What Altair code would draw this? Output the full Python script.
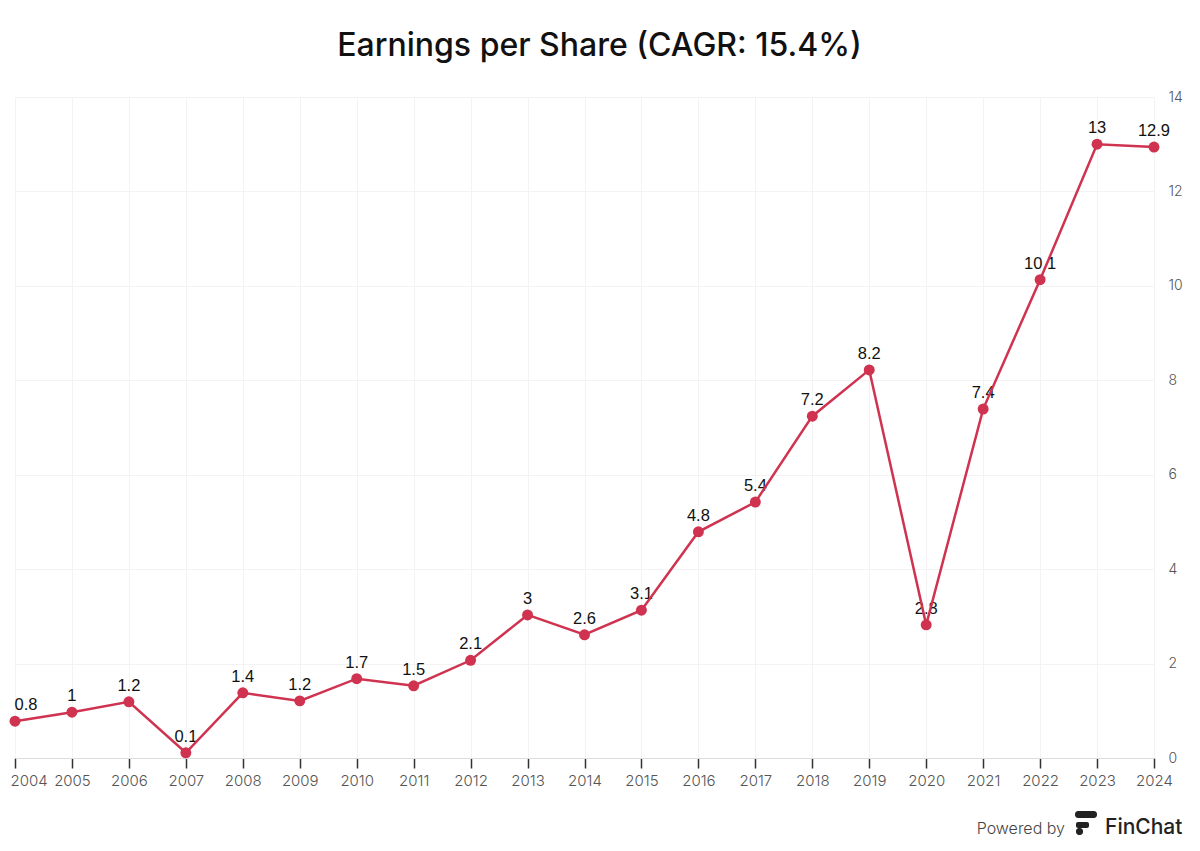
import altair as alt
import pandas as pd

years = [str(y) for y in range(2004, 2025)]
eps = [0.78, 0.97, 1.19, 0.11, 1.38, 1.21, 1.68, 1.53, 2.07, 3.03, 2.61,
       3.13, 4.79, 5.42, 7.24, 8.22, 2.82, 7.39, 10.13, 13.0, 12.94]


def fmt(v):
    s = f"{v:.1f}"
    return s[:-2] if s.endswith(".0") else s


df = pd.DataFrame({"year": years, "eps": eps, "label": [fmt(v) for v in eps]})

RED = "#cf3350"
FONT = "Inter"

x = alt.X("year:O", title=None,
          scale=alt.Scale(type="point", padding=0),
          axis=alt.Axis(labelAngle=0, labelFont=FONT, labelFontSize=15,
                        labelFontWeight=300,
                        labelColor="#555555", tickColor="#333333", tickSize=10,
                        tickWidth=1.5, domainColor="#dddddd", labelPadding=5,
                        labelAlign={"condition": {"test": "datum.value == '2004'",
                                                  "value": "left"},
                                    "value": "center"},
                        labelOffset={"condition": {"test": "datum.value == '2004'",
                                                   "value": -5},
                                     "value": 0},
                        grid=True, gridColor="#f3f3f3"))
y = alt.Y("eps:Q", title=None,
          scale=alt.Scale(domain=[0, 14]),
          axis=alt.Axis(orient="right", values=list(range(0, 15, 2)),
                        labelFont=FONT, labelFontSize=14, labelFontWeight=300,
                        labelColor="#555555",
                        ticks=False, domain=False, labelPadding=14,
                        gridColor="#f3f3f3"))

base = alt.Chart(df)
labels = base.transform_filter("datum.year != '2004'").mark_text(
    font="Liberation Sans", fontSize=16.5, color="#111111", dy=-16
).encode(x=x, y=y, text="label:N")
label_first = base.transform_filter("datum.year == '2004'").mark_text(
    font="Liberation Sans", fontSize=16.5, color="#111111", dy=-16, dx=11
).encode(x=x, y=y, text="label:N")
line = base.mark_line(color=RED, strokeWidth=2.5).encode(x=x, y=y)
points = base.mark_circle(color=RED, size=120, opacity=1).encode(x=x, y=y)

foot = pd.DataFrame({"t": ["Powered by"]})
powered = alt.Chart(foot).mark_text(font=FONT, fontSize=16, fontWeight=300,
                                    color="#444444", align="right",
                                    baseline="alphabetic").encode(
    x=alt.value(1050), y=alt.value(737), text="t:N")
foot2 = pd.DataFrame({"t": ["FinChat"]})
finchat = alt.Chart(foot2).mark_text(font=FONT, fontSize=21, fontWeight=500,
                                     color="#222222", align="left",
                                     baseline="alphabetic").encode(
    x=alt.value(1090), y=alt.value(737), text="t:N")

logo_df = pd.DataFrame({"k": ["a"]})
logo_top = alt.Chart(logo_df).mark_rect(color="#222222", cornerRadius=3).encode(
    x=alt.value(1060), x2=alt.value(1082), y=alt.value(714), y2=alt.value(721))
logo_mid = alt.Chart(logo_df).mark_rect(color="#222222", cornerRadius=2).encode(
    x=alt.value(1061), x2=alt.value(1074), y=alt.value(725), y2=alt.value(731))
logo_bot = alt.Chart(logo_df).mark_rect(color="#222222", cornerRadius=3).encode(
    x=alt.value(1061), x2=alt.value(1068), y=alt.value(731), y2=alt.value(738))

chart = alt.layer(labels, label_first, line, points, powered, finchat,
                  logo_top, logo_mid, logo_bot).properties(
    width=1139, height=661,
    autosize=alt.AutoSizeParams(type="none"),
    padding={"left": 7, "top": 89, "right": 38, "bottom": 85},
    title=alt.TitleParams("Earnings per Share (CAGR: 15.4%)", font=FONT,
                          fontSize=32, fontWeight=500, color="#111111",
                          anchor="middle", offset=27, dx=15),
).configure_view(stroke=None)

chart.save("out.html", embed_options={"renderer": "svg", "actions": False})
